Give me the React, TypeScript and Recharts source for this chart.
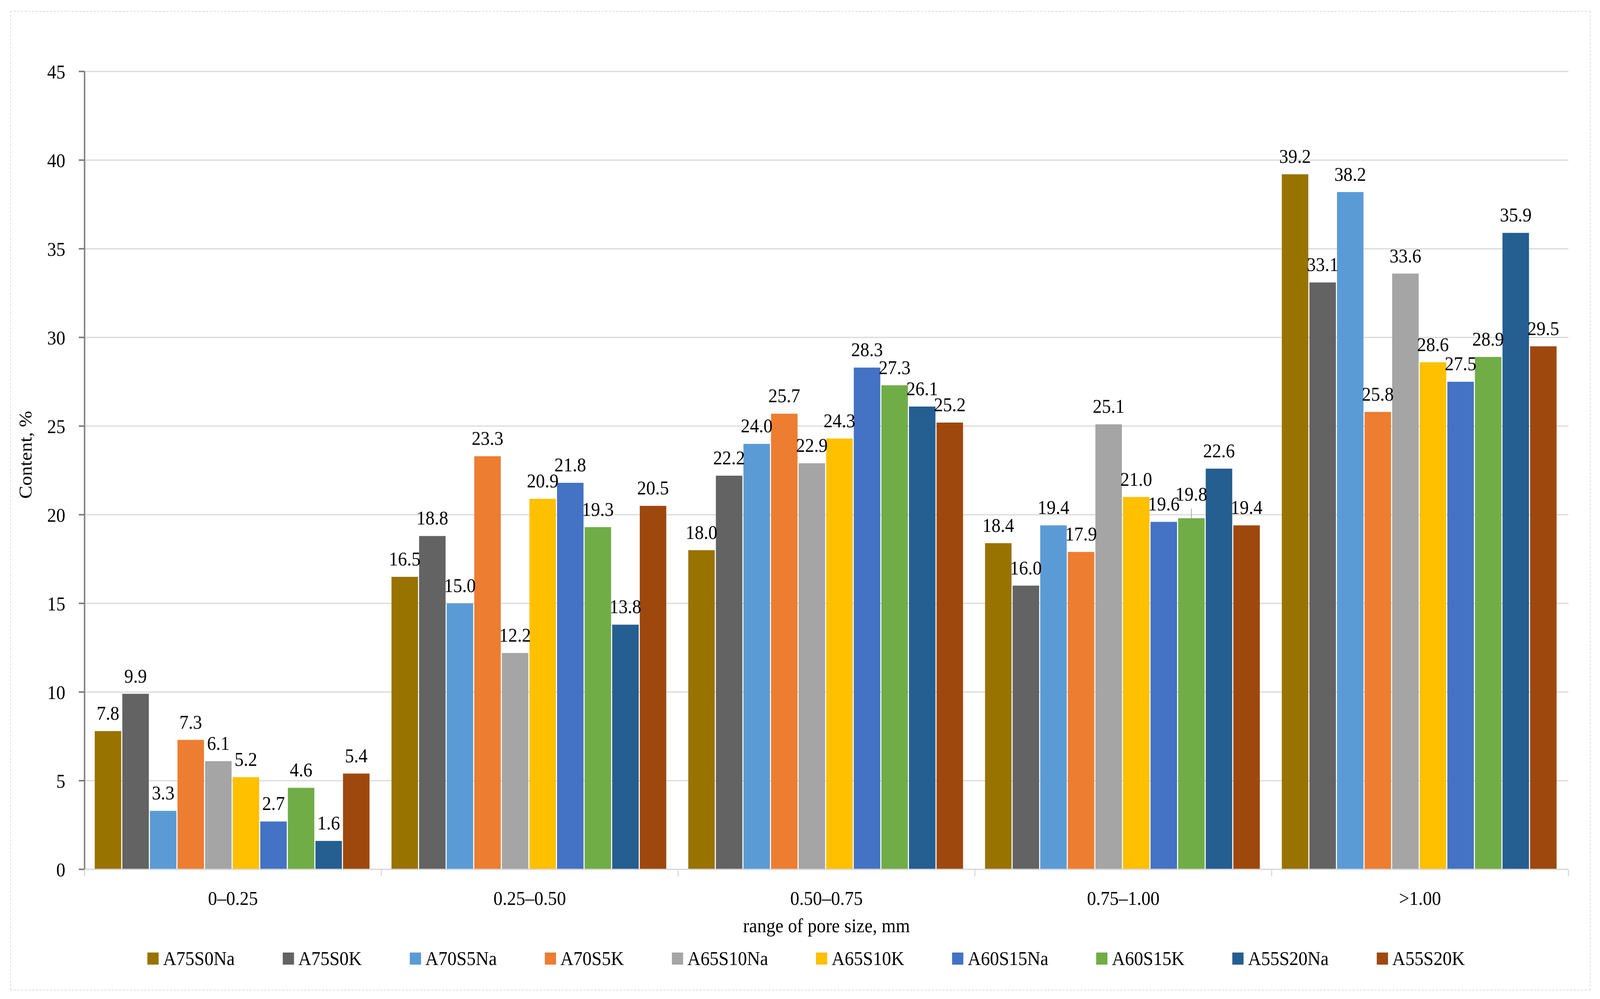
import React from "react"
import { BarChart, Bar, XAxis, YAxis, CartesianGrid, Legend, LabelList } from "recharts"

const categories = ["0–0.25", "0.25–0.50", "0.50–0.75", "0.75–1.00", ">1.00"]

const A75S0Na = [7.8, 16.5, 18.0, 18.4, 39.2]
const A75S0K = [9.9, 18.8, 22.2, 16.0, 33.1]
const A70S5Na = [3.3, 15.0, 24.0, 19.4, 38.2]
const A70S5K = [7.3, 23.3, 25.7, 17.9, 25.8]
const A65S10Na = [6.1, 12.2, 22.9, 25.1, 33.6]
const A65S10K = [5.2, 20.9, 24.3, 21.0, 28.6]
const A60S15Na = [2.7, 21.8, 28.3, 19.6, 27.5]
const A60S15K = [4.6, 19.3, 27.3, 19.8, 28.9]
const A55S20Na = [1.6, 13.8, 26.1, 22.6, 35.9]
const A55S20K = [5.4, 20.5, 25.2, 19.4, 29.5]

const yTicks = [0, 5, 10, 15, 20, 25, 30, 35, 40, 45]

// labels that were pulled up with a leader line in the original
const raisedLabels: Record<string, number[]> = { A60S15K: [3] }

const series = [
    { name: "A75S0Na", values: A75S0Na, color: "#997300" },
    { name: "A75S0K", values: A75S0K, color: "#636363" },
    { name: "A70S5Na", values: A70S5Na, color: "#5B9BD5" },
    { name: "A70S5K", values: A70S5K, color: "#ED7D31" },
    { name: "A65S10Na", values: A65S10Na, color: "#A5A5A5" },
    { name: "A65S10K", values: A65S10K, color: "#FFC000" },
    { name: "A60S15Na", values: A60S15Na, color: "#4472C4" },
    { name: "A60S15K", values: A60S15K, color: "#70AD47" },
    { name: "A55S20Na", values: A55S20Na, color: "#255E91" },
    { name: "A55S20K", values: A55S20K, color: "#9E480E" },
]

const data = categories.map((range, i) => {
    const row: Record<string, string | number> = { range }
    series.forEach(s => { row[s.name] = s.values[i] })
    return row
})

const FONT = "'Liberation Serif', serif"
const FS = 50
const W = 4408
const H = 2558

const CategoryTick = (props: any) => {
    const { x, y, payload, index, visibleTicksCount } = props
    const half = payload.offset ?? 0
    return (
        <g>
            <line x1={x - half} x2={x - half} y1={y} y2={y + 18} stroke="#d9d9d9" strokeWidth={3} />
            {index === visibleTicksCount - 1 && (
                <line x1={x + half} x2={x + half} y1={y} y2={y + 18} stroke="#d9d9d9" strokeWidth={3} />
            )}
            <text x={x} y={y + 74} dy="0.35em" textAnchor="middle" fontSize={FS} fill="#000" fontFamily={FONT}>
                {payload.value}
            </text>
        </g>
    )
}

const makeBarLabel = (seriesName: string) => (props: any) => {
    const vb = props.viewBox ?? props
    const cx = vb.x + vb.width / 2
    const top = vb.height < 0 ? vb.y + vb.height : vb.y
    const raised = (raisedLabels[seriesName] || []).includes(props.index)
    const gap = raised ? 45 : 29
    return (
        <g>
            {raised && <line x1={cx} x2={cx} y1={top} y2={top - 25} stroke="#a6a6a6" strokeWidth={2} />}
            <text x={cx} y={top - gap} textAnchor="middle" fontSize={FS} fill="#000" fontFamily={FONT}>
                {Number(props.value).toFixed(1)}
            </text>
        </g>
    )
}

const LegendContent = () => (
    <div style={{ height: 120, display: "flex", justifyContent: "center", alignItems: "center", gap: 132, paddingLeft: 121, fontFamily: FONT, fontSize: FS, color: "#000" }}>
        {series.map(s => (
            <div key={s.name} style={{ display: "flex", alignItems: "center" }}>
                <span style={{ width: 31, height: 31, background: s.color, marginRight: 12, display: "inline-block" }} />
                <span>{s.name}</span>
            </div>
        ))}
    </div>
)

const App = () => {
    // the window is narrower than the figure, so squeeze it horizontally to fit
    const sx = Math.min(1, window.innerWidth / W)
    return (
        <div style={{ position: "absolute", left: 0, top: 0, width: W, height: H, background: "#fff", fontFamily: FONT, transform: `scaleX(${sx})`, transformOrigin: "0 0" }}>
            <div style={{ position: "absolute", left: 28, top: 28, width: 4350, height: 2504, border: "2px dashed #dcdcdc" }} />
            <BarChart
                width={W}
                height={H}
                data={data}
                margin={{ top: 183, right: 87, left: 0, bottom: 44 }}
                barCategoryGap={28}
                barGap={3}
            >
                <CartesianGrid vertical={false} stroke="#d9d9d9" strokeWidth={3} />
                <XAxis
                    dataKey="range"
                    height={168}
                    interval={0}
                    tickLine={false}
                    tickSize={0}
                    tickMargin={0}
                    axisLine={{ stroke: "#d9d9d9", strokeWidth: 3 }}
                    tick={<CategoryTick />}
                    label={{
                        content: ({ viewBox }: any) => (
                            <text x={viewBox.x + viewBox.width / 2} y={viewBox.y + viewBox.height - 24} dy="0.35em" textAnchor="middle" fontSize={FS} fill="#000" fontFamily={FONT}>
                                range of pore size, mm
                            </text>
                        ),
                    }}
                />
                <YAxis
                    width={233}
                    domain={[0, 45]}
                    ticks={yTicks}
                    interval={0}
                    tickSize={16}
                    tickMargin={37}
                    tick={{ fontSize: FS, fill: "#000", fontFamily: FONT }}
                    tickLine={{ stroke: "#7f7f7f", strokeWidth: 4 }}
                    axisLine={{ stroke: "#7f7f7f", strokeWidth: 4 }}
                    label={{
                        content: ({ viewBox }: any) => {
                            const cx = viewBox.x + 70
                            const cy = viewBox.y + viewBox.height / 2 - 40
                            return (
                                <text x={cx} y={cy} dy="0.35em" textAnchor="middle" fontSize={FS} fill="#000" fontFamily={FONT} transform={`rotate(-90, ${cx}, ${cy})`}>
                                    Content, %
                                </text>
                            )
                        },
                    }}
                />
                <Legend verticalAlign="bottom" content={<LegendContent />} />
                {series.map(s => (
                    <Bar key={s.name} dataKey={s.name} fill={s.color} isAnimationActive={false}>
                        <LabelList dataKey={s.name} content={makeBarLabel(s.name)} />
                    </Bar>
                ))}
            </BarChart>
        </div>
    )
}

export default App
